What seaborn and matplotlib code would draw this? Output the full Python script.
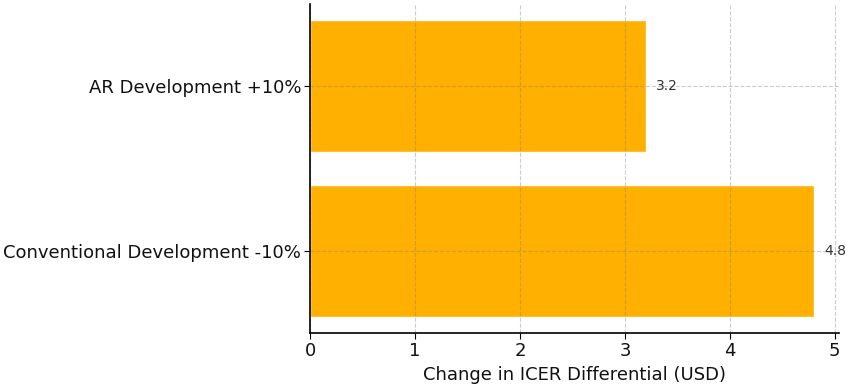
import matplotlib
matplotlib.use("Agg")
import matplotlib.pyplot as plt
import seaborn as sns
import pandas as pd

# Datos
escenarios = ["AR Development +10%", "Conventional Development -10%"]
cambios = [3.2, 4.8]

df = pd.DataFrame({"escenario": escenarios, "cambio": cambios})

sns.set_style("white")
plt.rcParams["font.family"] = ["DejaVu Sans"]
plt.rcParams["text.color"] = "#111111"
plt.rcParams["axes.labelcolor"] = "#111111"
plt.rcParams["xtick.color"] = "#111111"
plt.rcParams["ytick.color"] = "#111111"

fig, ax = plt.subplots(figsize=(8.5, 3.85), dpi=100)
fig.subplots_adjust(left=0.365, right=0.987, top=0.99, bottom=0.135)

sns.barplot(data=df, x="cambio", y="escenario", color="#FFB000",
            saturation=1, width=0.8, orient="h", ax=ax, zorder=2)

# Etiquetas con el valor
for i, v in enumerate(df["cambio"]):
    ax.text(v + 0.1, i, str(v), va="center", ha="left", fontsize=10, color="#333333", zorder=4)

ax.set_xlim(0, 5.04)
ax.set_xticks([0, 1, 2, 3, 4, 5])
# rejilla por encima de las barras, semitransparente
ax.grid(True, linestyle="--", color="gray", alpha=0.4, linewidth=0.8, zorder=3)
ax.set_axisbelow(False)
ax.set_xlabel("Change in ICER Differential (USD)", fontsize=13, labelpad=4)
ax.set_ylabel("")
ax.tick_params(axis="both", labelsize=13, length=4, color="black", left=True, bottom=True, pad=2.5)
for lado in ["top", "right"]:
    ax.spines[lado].set_visible(False)
for lado in ["left", "bottom"]:
    ax.spines[lado].set_color("black")
    ax.spines[lado].set_linewidth(1.2)
    ax.spines[lado].set_zorder(5)

fig.savefig("out.png", dpi=100)
